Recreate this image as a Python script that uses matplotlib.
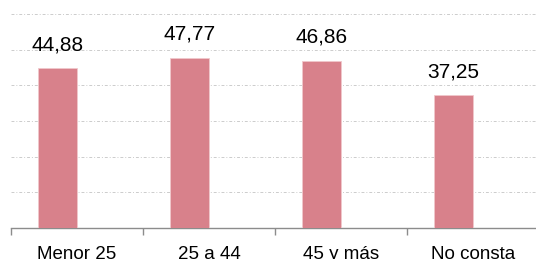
import matplotlib.pyplot as plt
import numpy as np

categories = ["Menor 25", "25 a 44", "45 y más", "No consta"]
values = [44.88, 47.77, 46.86, 37.25]
value_labels = ["44,88", "47,77", "46,86", "37,25"]

BAR_COLOR = "#d8818b"
GRID_COLOR = "#cccccc"
AXIS_COLOR = "#8c8c8c"

plt.rcParams["font.family"] = ["Liberation Sans", "DejaVu Sans"]

fig = plt.figure(figsize=(5.36, 2.59), dpi=100)
ax = fig.add_axes([11 / 536, 31 / 259, 528 / 536, 214 / 259])

x = np.arange(len(categories))
ax.bar(x, values, width=-0.295, align="edge", color=BAR_COLOR,
       edgecolor="#f0c8cc", linewidth=0.6, zorder=3)

for xi, v, lab in zip(x, values, value_labels):
    ax.annotate(lab, (xi - 0.1475, v), xytext=(0, 10), textcoords="offset points",
                ha="center", va="bottom", fontsize=15, color="black")

ax.set_xlim(-0.5, 3.5)
ax.set_ylim(0, 60)
ax.set_yticks(np.arange(10, 61, 10))
ax.tick_params(axis="y", left=False, labelleft=False)
ax.yaxis.grid(True, color=GRID_COLOR, linestyle=(0, (3, 2, 1, 2)), linewidth=0.7, zorder=0)

ax.set_xticks(x)
ax.set_xticklabels(categories, fontsize=13.5)
ax.set_xticks(np.arange(-0.5, 3.6, 1.0), minor=True)
ax.tick_params(axis="x", which="major", length=0, pad=13)
ax.tick_params(axis="x", which="minor", length=5, color=AXIS_COLOR, width=1)

for s in ["top", "right", "left"]:
    ax.spines[s].set_visible(False)
ax.spines["bottom"].set_color(AXIS_COLOR)
ax.spines["bottom"].set_linewidth(1)

fig.savefig("out.png", dpi=100)
